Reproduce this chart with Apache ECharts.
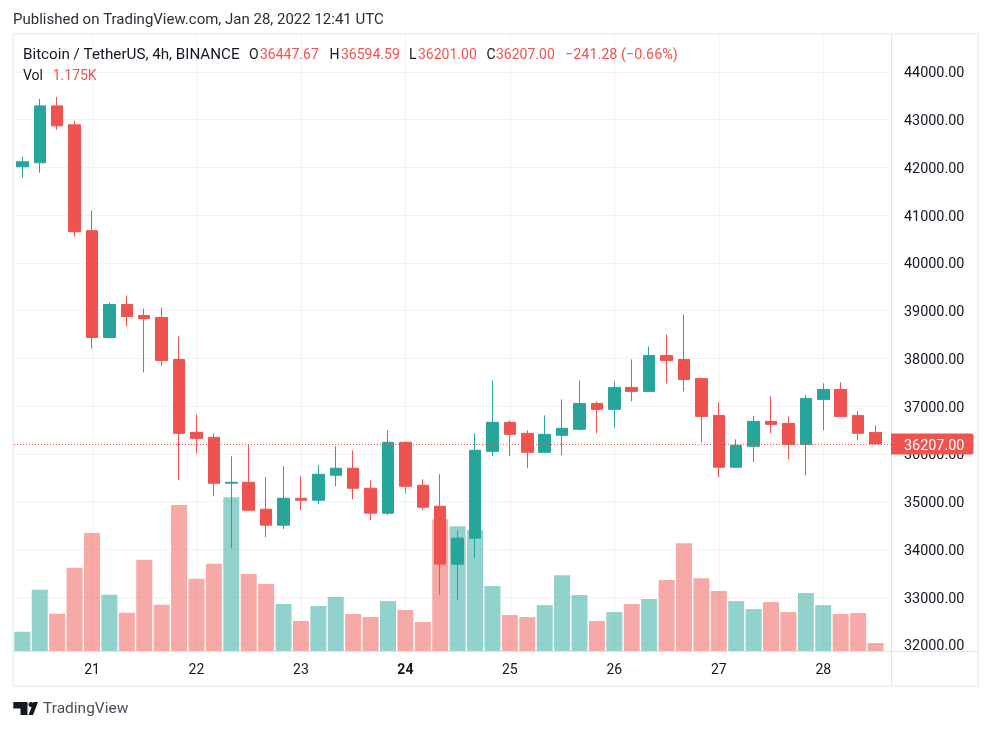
<!DOCTYPE html>
<html>
<head>
<meta charset="utf-8">
<style>
  html, body { margin: 0; padding: 0; background: #fff; }
  #main { width: 991px; height: 730px; }
</style>
<script src="https://cdn.jsdelivr.net/npm/echarts@6/dist/echarts.min.js"></script>
</head>
<body>
<div id="main"></div>
<script>
// 4h candles
const opens = [42012, 42096, 43288, 42891, 40674, 38436, 39126, 38896, 38854, 37976,
  36449, 36344, 35382, 35403, 34838, 34504, 35068, 35027, 35549, 35696,
  35278, 34755, 36240, 35340, 34901, 33688, 34232, 36051, 36658, 36428,
  36031, 36386, 36512, 37055, 36930, 37390, 37306, 38059, 37976, 37578,
  36804, 35717, 36156, 36679, 36637, 36198, 37139, 37348, 36804, 36447.67];
const closes = [42117, 43288, 42870, 40653, 38436, 39126, 38875, 38833, 37955, 36428,
  36323, 35382, 35403, 34817, 34504, 35068, 35027, 35570, 35696, 35278,
  34755, 36240, 35319, 34880, 33688, 34232, 36072, 36658, 36407, 36031,
  36407, 36533, 37055, 36930, 37390, 37306, 38059, 37955, 37557, 36783,
  35717, 36177, 36679, 36616, 36198, 37160, 37348, 36783, 36428, 36207];
const lows = [41782, 41887, 42786, 40548, 38206, 38436, 38666, 37704, 37850, 35445,
  36010, 35110, 34023, 34817, 34253, 34420, 34817, 34943, 35319, 35047,
  34608, 34713, 35173, 34817, 33040, 32935, 33813, 35947, 35947, 35696,
  36010, 35968, 36491, 36428, 36553, 37097, 37306, 37474, 37306, 36240,
  35508, 35696, 35821, 36428, 35884, 35549, 36491, 36783, 36281, 36201];
const highs = [42222, 43435, 43477, 42975, 41092, 39168, 39314, 39042, 39063, 38457,
  36825, 36428, 35947, 36198, 35508, 35738, 35529, 35759, 36156, 36072,
  35445, 36491, 36260, 35466, 35570, 34399, 36428, 37536, 36700, 36491,
  36804, 37139, 37536, 37097, 37516, 37976, 38248, 38498, 38917, 37578,
  37076, 36302, 36783, 37202, 36783, 37223, 37474, 37495, 36888, 36594.59];
// volume in thousands
const volumes = [2.84, 9.01, 5.48, 12.25, 17.39, 8.28, 5.63, 13.42, 6.81, 21.51,
  10.63, 12.83, 22.64, 11.32, 9.85, 6.91, 4.41, 6.62, 7.94, 5.44,
  5.00, 7.35, 6.03, 4.26, 19.40, 18.38, 17.79, 9.56, 5.29, 5.00,
  6.76, 11.17, 8.23, 4.41, 5.73, 6.91, 7.64, 10.44, 15.88, 10.73,
  8.82, 7.35, 6.17, 7.20, 5.73, 8.53, 6.76, 5.44, 5.59, 1.175];

const dayTicks = [4, 10, 16, 22, 28, 34, 40, 46];
const dayLabels = ['21', '22', '23', '24', '25', '26', '27', '28'];
const boldDay = '24';
const priceTicks = [32000, 33000, 34000, 35000, 36000, 37000, 38000, 39000, 40000, 41000, 42000, 43000, 44000];
const lastPrice = 36207;

const UP = '#26a69a', DOWN = '#ef5350', INK = '#131722';
const FONT = 'Roboto';

const candleData = opens.map((o, i) => [i, o, closes[i], lows[i], highs[i]]);
const volumeData = volumes.map((v, i) => ({
  value: [i, v],
  itemStyle: { color: closes[i] >= opens[i] ? 'rgba(38,166,154,0.5)' : 'rgba(239,83,80,0.5)' }
}));

function txt(x, y, text, fill, size) {
  return { type: 'text', x: x, y: y, silent: true, z: 20,
    style: { text: text, fill: fill, font: (size || 14) + 'px ' + FONT, textVerticalAlign: 'middle' } };
}

const chart = echarts.init(document.getElementById('main'), null, { renderer: 'canvas' });
chart.setOption({
  animation: false,
  backgroundColor: '#fff',
  grid: { left: 14, right: 100, top: 35, bottom: 79 },
  xAxis: {
    type: 'value',
    min: -0.48,
    max: 49.89,
    axisLine: { show: false },
    axisTick: { show: false, customValues: dayTicks },
    splitLine: { show: true, lineStyle: { color: 'rgba(42,46,57,0.06)', width: 1 } },
    axisLabel: {
      customValues: dayTicks,
      margin: 12,
      fontFamily: FONT,
      fontSize: 14,
      color: INK,
      showMinLabel: true,
      showMaxLabel: true,
      formatter: function (v) {
        const s = dayLabels[dayTicks.indexOf(v)];
        return s === boldDay ? '{b|' + s + '}' : s;
      },
      rich: { b: { fontFamily: FONT, fontSize: 14, fontWeight: 'bold', color: INK } }
    }
  },
  yAxis: [
    {
      type: 'value',
      position: 'right',
      min: 31868,
      max: 44773,
      axisLine: { show: false },
      axisTick: { show: false, customValues: priceTicks },
      splitLine: { show: true, lineStyle: { color: 'rgba(42,46,57,0.06)', width: 1 } },
      axisLabel: {
        customValues: priceTicks,
        margin: 13,
        formatter: v => '{p|' + v.toFixed(2) + '}',
        rich: { p: { fontFamily: FONT, fontSize: 14.4, color: INK, padding: [4, 0, 0, 0] } }
      }
    },
    { type: 'value', min: 0, max: 90.7, show: false }
  ],
  series: [
    {
      type: 'bar',
      yAxisIndex: 1,
      barWidth: 16,
      z: 1,
      data: volumeData
    },
    {
      type: 'candlestick',
      yAxisIndex: 0,
      z: 3,
      barWidth: 12,
      encode: { x: 0, y: [1, 2, 3, 4] },
      itemStyle: { color: UP, color0: DOWN, borderColor: UP, borderColor0: DOWN, borderWidth: 1 },
      data: candleData,
      markLine: {
        silent: true,
        symbol: 'none',
        animation: false,
        precision: 0,
        lineStyle: { color: DOWN, type: [1, 2], width: 1 },
        label: {
          position: 'end',
          distance: 0,
          formatter: () => '{t|' + lastPrice.toFixed(2) + '}',
          backgroundColor: DOWN,
          padding: [2, 9, 1, 13],
          borderRadius: [0, 2, 2, 0],
          rich: { t: { fontFamily: FONT, fontSize: 14.4, color: '#fff', padding: [4, 0, 0, 0] } }
        },
        data: [{ yAxis: lastPrice }]
      }
    }
  ],
  graphic: [
    { type: 'rect', silent: true, z: 0, shape: { x: 13, y: 34, width: 965, height: 652 },
      style: { fill: 'none', stroke: '#f0f1f6', lineWidth: 2 } },
    { type: 'line', silent: true, z: 0, shape: { x1: 891.5, y1: 34, x2: 891.5, y2: 686 },
      style: { stroke: '#e0e3eb', lineWidth: 1 } },
    { type: 'line', silent: true, z: 0, shape: { x1: 13, y1: 651.5, x2: 978, y2: 651.5 },
      style: { stroke: '#e0e3eb', lineWidth: 1 } },
    txt(13, 20, 'Published on TradingView.com, Jan 28, 2022 12:41 UTC', '#2a2e39', 15),
    txt(23, 55, 'Bitcoin / TetherUS, 4h, BINANCE', INK, 15.2),
    txt(249, 55, 'O', INK),
    txt(260, 55, '36447.67', DOWN),
    txt(329.5, 55, 'H', INK),
    txt(341, 55, '36594.59', DOWN),
    txt(409, 55, 'L', INK),
    txt(418, 55, '36201.00', DOWN),
    txt(486.5, 55, 'C', INK),
    txt(496, 55, '36207.00', DOWN),
    txt(565, 55, '−241.28 (−0.66%)', DOWN, 14.4),
    txt(23, 76, 'Vol', INK),
    txt(52.7, 76, '1.175K', DOWN),
    // TV logo
    { type: 'polygon', silent: true, z: 20,
      shape: { points: [[13.3, 702], [27.5, 702], [27.5, 715], [20.5, 715], [20.5, 708.5], [13.3, 708.5]] },
      style: { fill: INK } },
    { type: 'circle', silent: true, z: 20, shape: { cx: 31, cy: 704.5, r: 2.5 }, style: { fill: INK } },
    { type: 'polygon', silent: true, z: 20,
      shape: { points: [[33.5, 702], [38, 702], [33, 715], [28.5, 715]] },
      style: { fill: INK } },
    txt(43, 709.5, 'TradingView', '#4a4e59', 15.5)
  ]
});
</script>
</body>
</html>
